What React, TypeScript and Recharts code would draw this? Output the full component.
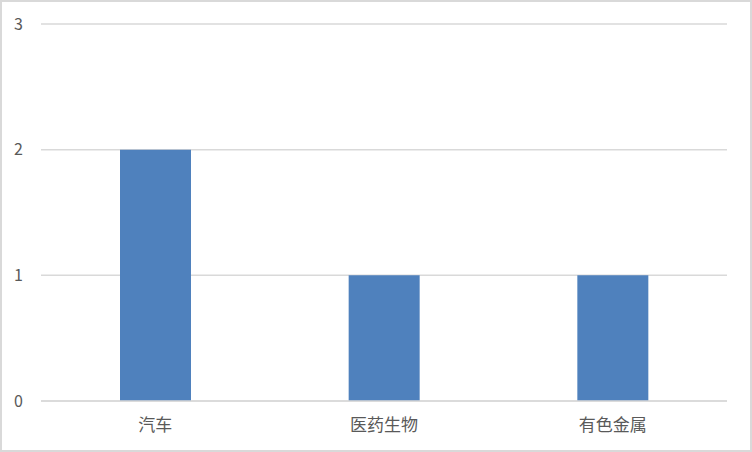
import { BarChart, Bar, XAxis, YAxis, CartesianGrid } from 'recharts';

const categories = ['汽车', '医药生物', '有色金属'];
const counts = [2, 1, 1];
const yTicks = [0, 1, 2, 3];

const data = categories.map((name, i) => ({ name, value: counts[i] }));

const FONT = "'Noto Sans CJK SC', 'Noto Sans', sans-serif";

const App = () => {
  return (
    <div style={{
      width: 752,
      height: 452,
      boxSizing: 'border-box',
      border: '2px solid #d9d9d9',
      background: '#fff',
      position: 'absolute',
      left: 0,
      top: 0,
    }}>
      <BarChart
        width={748}
        height={448}
        data={data}
        margin={{ top: 22, right: 23, bottom: 0, left: 0 }}
        barSize={71}
      >
        <CartesianGrid vertical={false} stroke="#d9d9d9" strokeWidth={1.5} />
        <XAxis
          dataKey="name"
          height={49}
          tickLine={false}
          tickSize={0}
          tickMargin={18}
          axisLine={{ stroke: '#d9d9d9', strokeWidth: 1.5 }}
          tick={{ fill: '#595959', fontSize: 17, fontFamily: FONT }}
        />
        <YAxis
          width={39}
          domain={[0, 3]}
          ticks={yTicks}
          axisLine={false}
          tickLine={false}
          tickSize={0}
          tickMargin={18}
          tick={{ fill: '#595959', fontSize: 16, fontFamily: FONT }}
        />
        <Bar dataKey="value" fill="#4f81bd" isAnimationActive={false} />
      </BarChart>
    </div>
  );
};

export default App;
